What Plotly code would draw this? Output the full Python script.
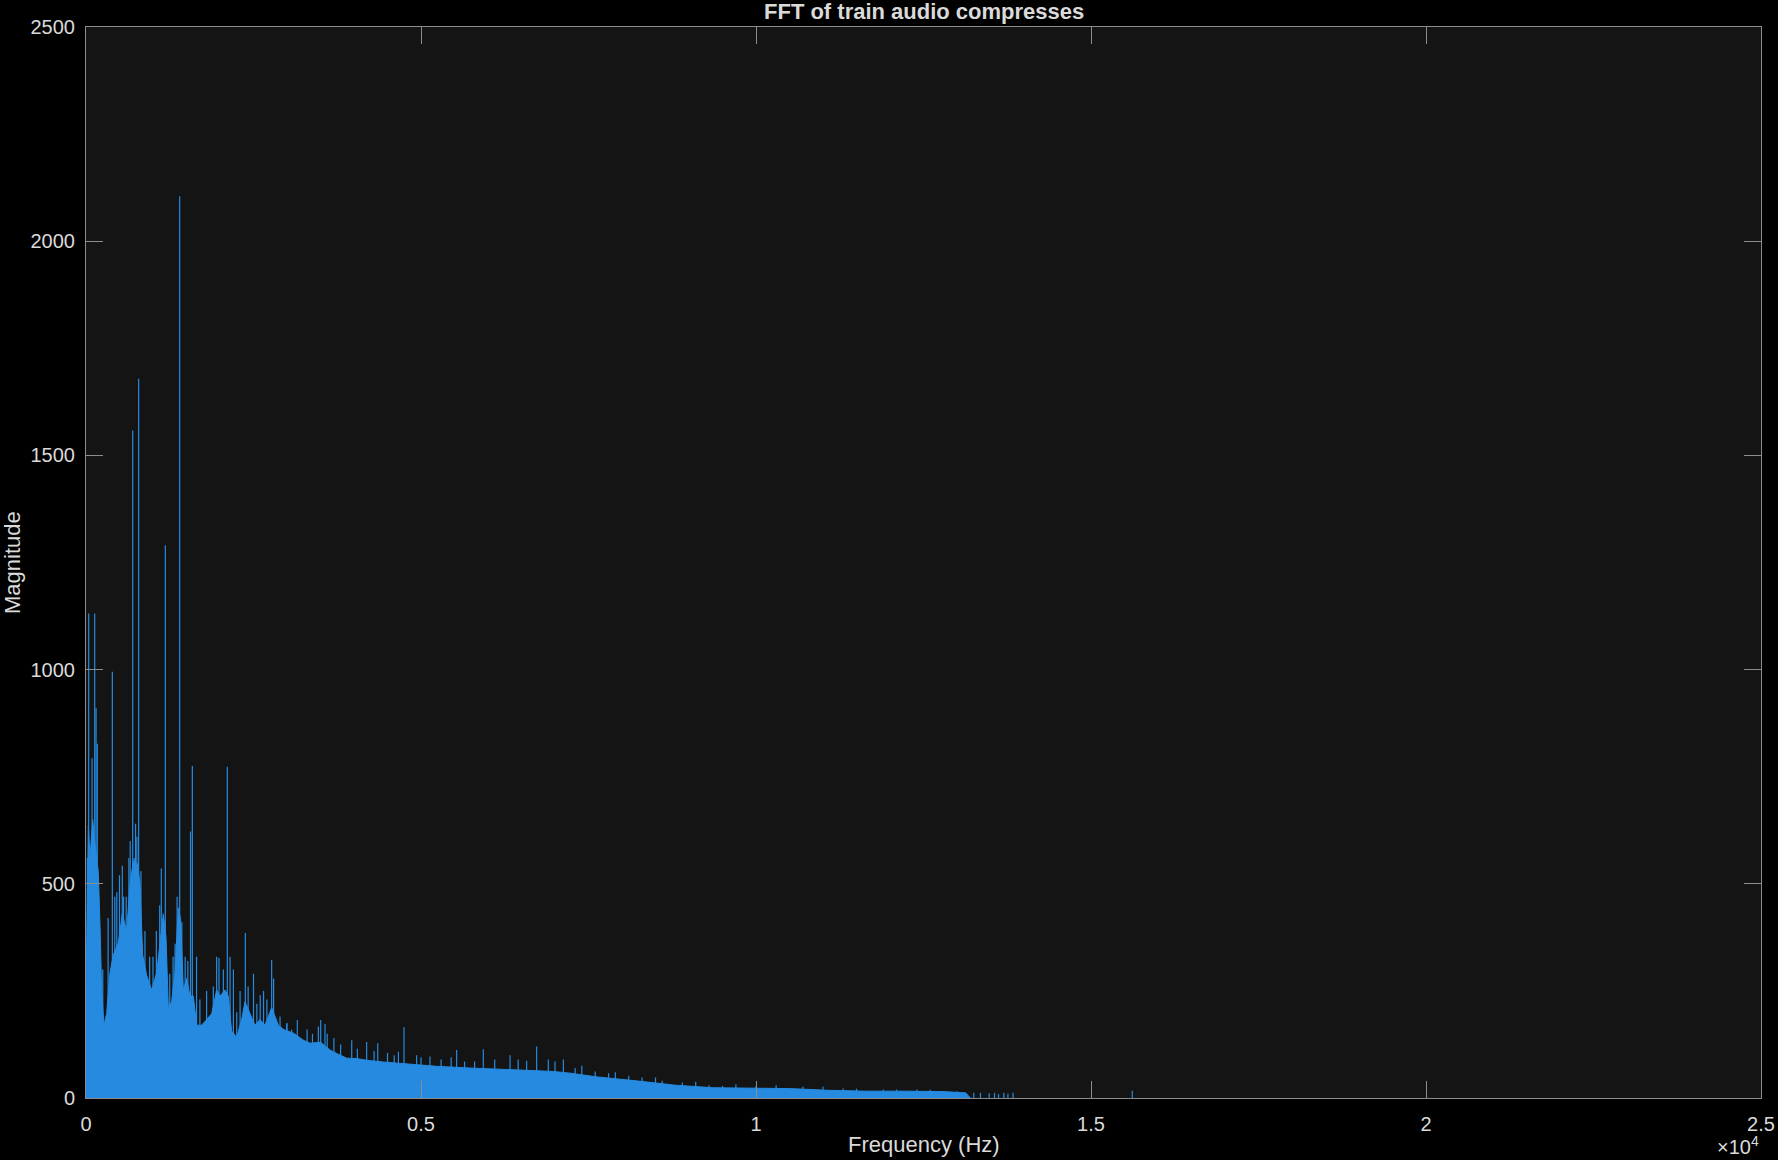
import plotly.graph_objects as go

# ---- data (frequency in Hz, magnitude) ----
# envelope of the dense spectrum body
body_freq = [0, 10, 35, 60, 100, 130, 160, 184, 209, 234, 268, 308, 358, 408, 482, 542, 607, 657,
             706, 766, 806, 846, 906, 980, 1055, 1104, 1154, 1194, 1229, 1278, 1328, 1378, 1413,
             1453, 1502, 1552, 1602, 1652, 1726, 1801, 1876, 1950, 2000, 2075, 2124, 2174, 2249,
             2323, 2373, 2448, 2522, 2597, 2672, 2771, 2871, 2950, 3100, 3244, 3343, 3503, 3642,
             3742, 3891, 4040, 4189, 4439, 4836, 5234, 5731, 6229, 6975, 7224, 7640, 8216,
             8790, 9360, 9925, 10500, 11075, 11640, 12210, 12785, 13130, 13200]
body_mag = [250, 389, 636, 560, 650, 600, 560, 526, 403, 252, 170, 197, 293, 334, 362, 430, 389, 499,
            553, 547, 499, 334, 286, 252, 293, 362, 430, 375, 211, 225, 293, 444, 416,
            252, 279, 238, 238, 170, 170, 183, 197, 252, 238, 252, 238, 156, 142,
            183, 225, 197, 170, 183, 170, 211, 170, 160, 151, 135, 128, 130, 112,
            104, 93, 92, 88, 84, 79, 74, 70, 67, 62, 58, 49, 40,
            30, 24, 23, 22, 18, 16, 16, 15, 12, 0]

# tall, medium and small spectral spikes
peak_freq = [20, 40, 90, 130, 150, 169, 250, 330, 393, 430, 460, 500, 542, 560, 600, 640, 660, 697,
             720, 740, 760, 786, 820, 880, 950, 1000, 1050, 1100, 1124, 1184, 1250, 1300, 1330,
             1360, 1398, 1430, 1480, 1520, 1560, 1587, 1650, 1700, 1800, 1900, 1950, 1985, 2050,
             2109, 2150, 2200, 2250, 2300, 2378, 2420, 2500, 2550, 2600, 2650, 2700, 2771, 2800,
             2896, 2995, 3000, 3070, 3154, 3300, 3380, 3468, 3503, 3567, 3600, 3700, 3800, 3966,
             4050, 4189, 4300, 4354, 4500, 4600, 4663, 4746, 4935, 5000, 5134, 5300, 5450, 5532,
             5650, 5800, 5930, 6100, 6329, 6450, 6577, 6726, 6900, 7000, 7125, 7300, 7400, 7600,
             7800, 7900, 8100, 8300, 8500, 8600, 8900, 9100, 9300, 9500, 9700, 10000, 10300,
             10700, 11000, 11300, 11500, 11900, 12100, 12400, 12600, 13000,
             13250, 13350, 13480, 13560, 13620, 13700, 13760, 13836, 15616]
peak_mag = [560, 1131, 793, 1131, 910, 827, 300, 420, 995, 470, 480, 520, 542, 470, 470, 560, 600, 1558,
            560, 640, 610, 1679, 530, 390, 330, 330, 390, 450, 536, 1290, 290, 330, 360,
            470, 2105, 410, 330, 320, 622, 775, 330, 230, 250, 260, 330, 327, 300,
            773, 330, 300, 200, 250, 385, 260, 290, 220, 240, 250, 230, 322, 279,
            190, 174, 175, 160, 182, 160, 150, 167, 182, 173, 150, 140, 125, 135,
            115, 131, 110, 128, 105, 100, 108, 165, 100, 95, 97, 90, 95, 112,
            85, 85, 114, 90, 100, 90, 87, 120, 90, 85, 90, 70, 75, 62,
            58, 60, 52, 48, 48, 40, 36, 38, 30, 28, 32, 28, 30,
            26, 26, 22, 22, 20, 20, 20, 19, 16,
            12, 12, 11, 12, 9, 12, 10, 12, 17]

x_tickvals = [0, 5000, 10000, 15000, 20000, 25000]
x_ticktext = ["0", "0.5", "1", "1.5", "2", "2.5"]
y_tickvals = [0, 500, 1000, 1500, 2000, 2500]

BLUE = "#268BE0"
TEXT = "#DADADA"
AXIS = "#8C8C8C"
FONT = "Liberation Sans, Arial, sans-serif"

# spikes as vertical segments built from the peak arrays
sx, sy = [], []
for f, m in zip(peak_freq, peak_mag):
    sx += [f, f, None]
    sy += [0, m, None]

fig = go.Figure()
fig.add_trace(go.Scatter(x=body_freq, y=body_mag, mode="lines", fill="tozeroy",
                         line=dict(color=BLUE, width=1), fillcolor=BLUE,
                         hoverinfo="skip", showlegend=False))
fig.add_trace(go.Scatter(x=sx, y=sy, mode="lines", line=dict(color=BLUE, width=1.2),
                         connectgaps=False, showlegend=False))

axis_common = dict(showline=True, linecolor=AXIS, linewidth=1, mirror="ticks",
                   ticks="inside", ticklen=17, tickcolor=AXIS, tickwidth=1,
                   showgrid=False, zeroline=False, automargin=False,
                   tickfont=dict(family=FONT, size=20, color=TEXT))

fig.update_layout(
    width=1778, height=1160,
    margin=dict(l=86, r=17, t=27, b=62),
    paper_bgcolor="#000000", plot_bgcolor="#141414",
    font=dict(family=FONT, color=TEXT),
    xaxis=dict(range=[0, 25000], tickvals=x_tickvals, ticktext=x_ticktext,
               ticklabelstandoff=8, **axis_common),
    yaxis=dict(range=[0, 2500], tickvals=y_tickvals, ticklabelstandoff=6, **axis_common),
    annotations=[
        dict(text="<b>FFT of train audio compresses</b>", xref="paper", yref="paper",
             x=0.5, y=1.0149, xanchor="center", yanchor="middle", showarrow=False,
             font=dict(family=FONT, size=22, color=TEXT)),
        dict(text="Frequency (Hz)", xref="paper", yref="paper",
             x=0.5, y=-0.043, xanchor="center", yanchor="middle", showarrow=False,
             font=dict(family=FONT, size=22, color=TEXT)),
        dict(text="Magnitude", xref="paper", yref="paper", textangle=-90,
             x=-0.0439, y=0.5, xanchor="center", yanchor="middle", showarrow=False,
             font=dict(family=FONT, size=22, color=TEXT)),
        dict(text="×10<sup>4</sup>", xref="paper", yref="paper",
             x=1.0, y=-0.044, xanchor="right", yanchor="middle", showarrow=False,
             font=dict(family=FONT, size=20, color=TEXT)),
    ],
)

fig.write_html("out.html")
